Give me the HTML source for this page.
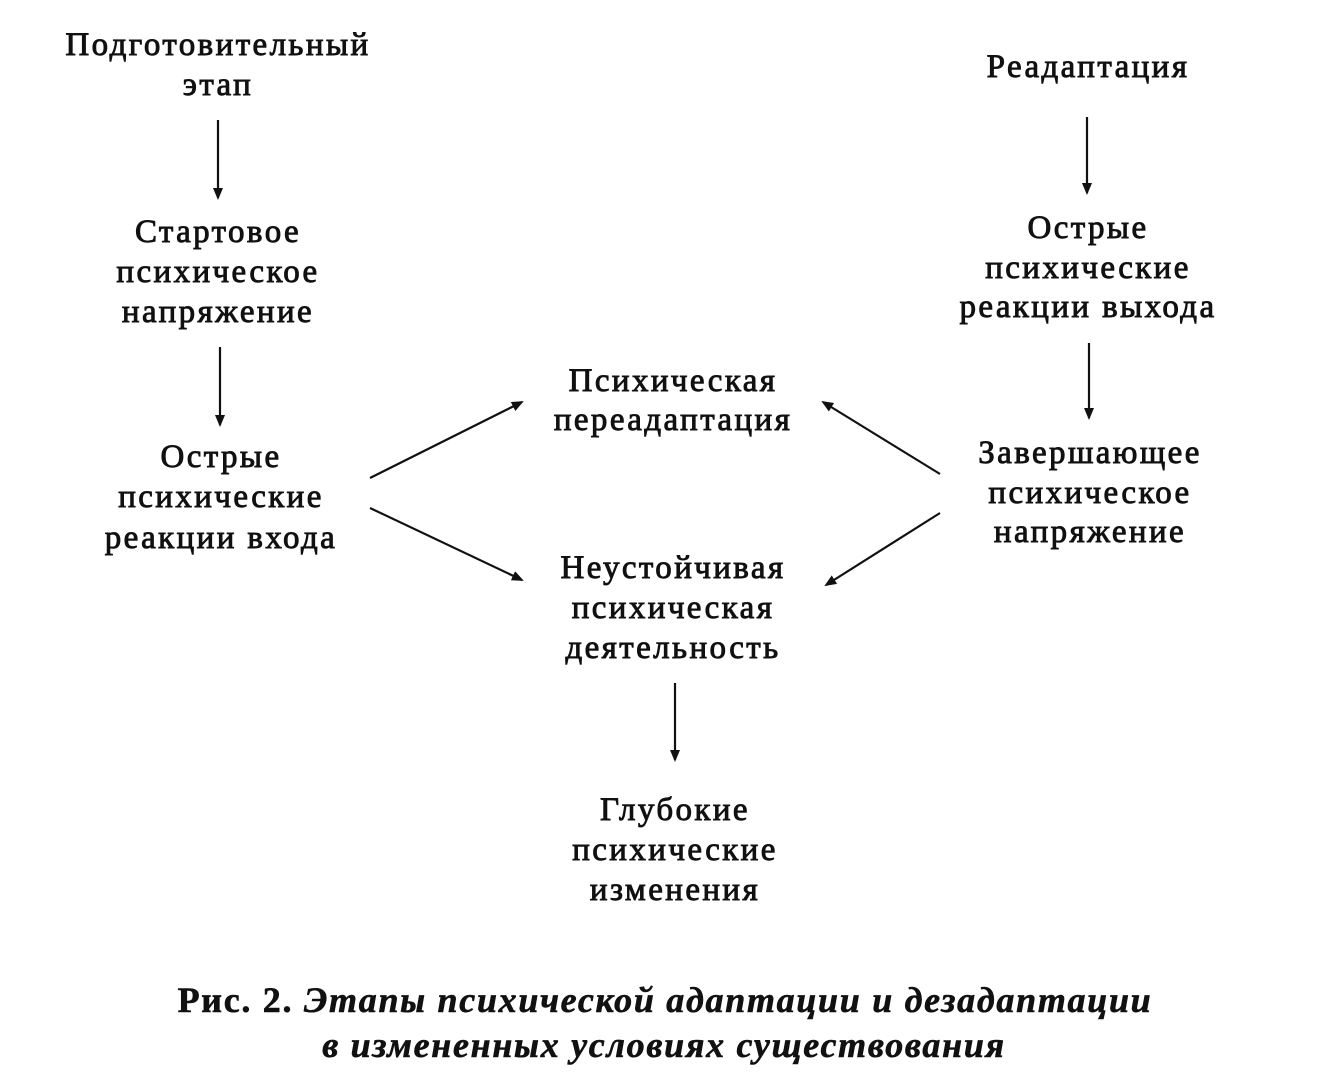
<!DOCTYPE html>
<html><head><meta charset="utf-8"><style>
html,body{margin:0;padding:0;background:#fff;}
svg{display:block;}
text{font-family:"Liberation Serif",serif;font-size:33px;letter-spacing:2.4px;fill:#111;stroke:#111;stroke-width:0.9;}
text.c{font-size:36px;letter-spacing:1.7px;stroke-width:0.6;}
</style></head><body>
<svg width="1319" height="1090" viewBox="0 0 1319 1090" xmlns="http://www.w3.org/2000/svg">
<defs><marker id="a" markerWidth="12" markerHeight="12" refX="10" refY="5" orient="auto" markerUnits="userSpaceOnUse"><path d="M0,0 L12,5 L0,10 Z" fill="#111"/></marker></defs>
<g text-anchor="middle" dominant-baseline="central">
<text x="218" y="45">Подготовительный</text><text x="218" y="85">этап</text>
<text x="218" y="232">Стартовое</text><text x="218" y="272">психическое</text><text x="218" y="312">напряжение</text>
<text x="221" y="457">Острые</text><text x="221" y="497">психические</text><text x="221" y="538">реакции входа</text>
<text x="673" y="381">Психическая</text><text x="673" y="420">переадаптация</text>
<text x="673" y="568">Неустойчивая</text><text x="673" y="608">психическая</text><text x="673" y="648">деятельность</text>
<text x="675" y="810">Глубокие</text><text x="675" y="850">психические</text><text x="675" y="890">изменения</text>
<text x="1088" y="67">Реадаптация</text>
<text x="1088" y="228">Острые</text><text x="1088" y="268">психические</text><text x="1088" y="307">реакции выхода</text>
<text x="1090" y="453">Завершающее</text><text x="1090" y="493">психическое</text><text x="1090" y="532">напряжение</text>
<text class="c" x="665" y="1000" font-weight="bold"><tspan font-style="normal">Рис. 2. </tspan><tspan font-style="italic">Этапы психической адаптации и дезадаптации</tspan></text>
<text class="c" x="664" y="1045" font-weight="bold" font-style="italic">в измененных условиях существования</text>
</g>
<g stroke="#111" stroke-width="2.2" marker-end="url(#a)">
<line x1="218" y1="120" x2="218" y2="198"/>
<line x1="220" y1="347" x2="220" y2="425"/>
<line x1="675" y1="683" x2="675" y2="760"/>
<line x1="1087" y1="117" x2="1087" y2="193"/>
<line x1="1089" y1="343" x2="1089" y2="418"/>
<line x1="370" y1="478" x2="522" y2="402"/>
<line x1="370" y1="508" x2="522" y2="580"/>
<line x1="940" y1="474" x2="823" y2="402"/>
<line x1="940" y1="513" x2="826" y2="585"/>
</g>
</svg>
</body></html>
